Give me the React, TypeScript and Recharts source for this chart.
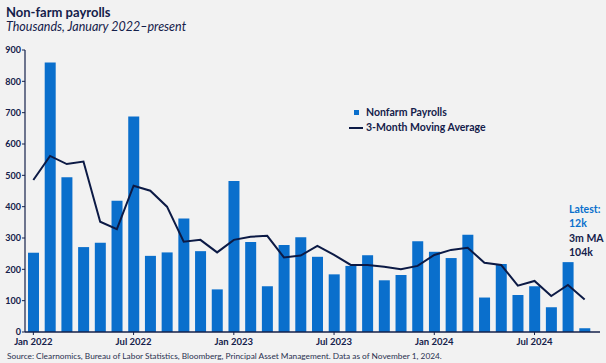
import React from 'react';
import { ComposedChart, Bar, Line, XAxis, YAxis } from 'recharts';

const months = [
  'Jan 2022', 'Feb 2022', 'Mar 2022', 'Apr 2022', 'May 2022', 'Jun 2022',
  'Jul 2022', 'Aug 2022', 'Sep 2022', 'Oct 2022', 'Nov 2022', 'Dec 2022',
  'Jan 2023', 'Feb 2023', 'Mar 2023', 'Apr 2023', 'May 2023', 'Jun 2023',
  'Jul 2023', 'Aug 2023', 'Sep 2023', 'Oct 2023', 'Nov 2023', 'Dec 2023',
  'Jan 2024', 'Feb 2024', 'Mar 2024', 'Apr 2024', 'May 2024', 'Jun 2024',
  'Jul 2024', 'Aug 2024', 'Sep 2024', 'Oct 2024',
];

const payrolls = [
  253, 860, 494, 271, 285, 419, 688, 243, 254, 362, 258, 136,
  482, 287, 146, 278, 302, 240, 184, 211, 245, 165, 182, 290,
  256, 236, 310, 110, 217, 118, 146, 79, 223, 12,
];

const movingAverage = [
  485, 562, 536, 544, 352, 328, 467, 451, 400, 288, 294, 254,
  294, 304, 307, 238, 244, 275, 246, 214, 214, 208, 200, 211,
  246, 262, 269, 221, 214, 148, 163, 115, 150, 104,
];

const yTicks = [0, 100, 200, 300, 400, 500, 600, 700, 800, 900];

const data = months.map((m, i) => ({ month: m, nfp: payrolls[i], ma: movingAverage[i] }));

const NAVY = '#14204a';
const BLUE = '#0a6fcc';
const LINE = '#0c1a45';
const FONT = 'Lato, "Noto Sans", sans-serif';

const LegendBox = () => (
  <div style={{ position: 'absolute', left: 349, top: 105, fontFamily: FONT, fontWeight: 700, fontSize: 10.5, color: NAVY, lineHeight: '15px' }}>
    <div style={{ display: 'flex', alignItems: 'center' }}>
      <span style={{ display: 'inline-block', width: 14, height: 15, position: 'relative' }}>
        <span style={{ position: 'absolute', left: 5, top: 5, width: 5, height: 5, background: BLUE }} />
      </span>
      <span style={{ marginLeft: 3 }}>Nonfarm Payrolls</span>
    </div>
    <div style={{ display: 'flex', alignItems: 'center' }}>
      <span style={{ display: 'inline-block', width: 14, height: 2, background: LINE }} />
      <span style={{ marginLeft: 3 }}>3-Month Moving Average</span>
    </div>
  </div>
);

export default function App() {
  return (
    <div style={{ position: 'absolute', left: 0, top: 0, width: 606, height: 363, background: '#f2f2f2', overflow: 'hidden', fontFamily: FONT }}>
      <div style={{ position: 'absolute', left: 6, top: 4, fontSize: 13, fontWeight: 700, color: NAVY }}>Non-farm payrolls</div>
      <div style={{ position: 'absolute', left: 6, top: 19, fontSize: 12.5, fontStyle: 'italic', color: NAVY }}>Thousands, January 2022–present</div>
      <div style={{ position: 'absolute', left: 0, top: 0 }}>
        <ComposedChart width={606} height={363} data={data} margin={{ top: 50, right: 6, bottom: 0, left: 0 }} barCategoryGap={0}>
          <XAxis
            dataKey="month"
            interval={5}
            height={31}
            padding={{ left: 0, right: 7 }}
            axisLine={{ stroke: NAVY, strokeWidth: 1.5 }}
            tickLine={{ stroke: NAVY }}
            tickSize={3}
            tickMargin={3}
            tick={{ fill: NAVY, fontSize: 9.5, fontWeight: 700, fontFamily: FONT }}
          />
          <YAxis
            domain={[0, 900]}
            ticks={yTicks}
            width={25}
            axisLine={{ stroke: NAVY, strokeWidth: 1.2 }}
            tickLine={{ stroke: NAVY }}
            tickSize={3}
            tickMargin={1}
            tick={{ fill: NAVY, fontSize: 9, fontWeight: 700, fontFamily: FONT }}
          />
          <Bar dataKey="nfp" name="Nonfarm Payrolls" fill={BLUE} barSize={11} isAnimationActive={false} />
          <Line dataKey="ma" name="3-Month Moving Average" type="linear" stroke={LINE} strokeWidth={2} dot={false} isAnimationActive={false} />
        </ComposedChart>
      </div>
      <LegendBox />
      <div style={{ position: 'absolute', left: 569, top: 203, fontSize: 10.5, fontWeight: 700, lineHeight: '13.5px' }}>
        <div style={{ color: BLUE }}>Latest:</div>
        <div style={{ color: BLUE }}>12k</div>
        <div style={{ color: NAVY, marginTop: 2 }}>3m MA</div>
        <div style={{ color: NAVY }}>104k</div>
      </div>
      <div style={{ position: 'absolute', left: 7, top: 351, fontSize: 8.3, color: '#2a3150', whiteSpace: 'nowrap' }}>
        Source: Clearnomics, Bureau of Labor Statistics, Bloomberg, Principal Asset Management. Data as of November 1, 2024.
      </div>
    </div>
  );
}
